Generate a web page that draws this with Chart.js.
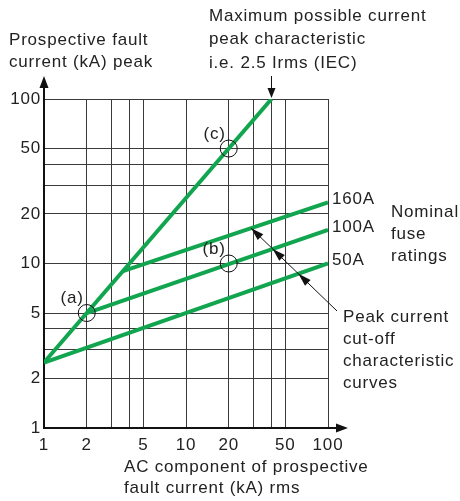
<!DOCTYPE html>
<html>
<head>
<meta charset="utf-8">
<script src="https://cdn.jsdelivr.net/npm/chart.js@4.4.1/dist/chart.umd.min.js"></script>
<style>
  html, body { margin: 0; padding: 0; background: #fff; }
</style>
</head>
<body>
<canvas id="fuse-chart" width="460" height="501"></canvas>
<script>
// Grid lines (log-log) and the values that get a label
const gridValues = [1, 2, 3, 4, 5, 10, 20, 30, 40, 50, 100];
const labelledValues = [1, 2, 5, 10, 20, 50, 100];

// Maximum possible current peak, i.e. 2.5 x Irms
const maxPeakX = [1, 40];
const maxPeakY = [2.5, 100];

// Cut-off curves for each nominal fuse rating
const fuseNames = ['50A', '100A', '160A'];
const fuse50X = [1, 100];
const fuse50Y = [2.5, 10];
const fuse100X = [2, 100];
const fuse100Y = [5, 16];
const fuse160X = [3.6, 100];
const fuse160Y = [9, 23.5];

// Marked points (a), (b), (c)
const markerNames = ['(a)', '(b)', '(c)'];
const markerX = [2, 20, 20];
const markerY = [5, 10, 50];

const GREEN = '#12a550';
const INK = '#222';
const FAMILY = '"Liberation Sans", Arial, sans-serif';
const FONT = '17px ' + FAMILY;
const SPACING = '0.8px';

const toPoints = (xs, ys) => xs.map((v, i) => ({ x: v, y: ys[i] }));

const greenLine = (label, xs, ys) => ({
    label,
    data: toPoints(xs, ys),
    showLine: true,
    borderColor: GREEN,
    backgroundColor: GREEN,
    borderWidth: 4,
    borderCapStyle: 'butt',
    pointRadius: 0,
    order: 1
});

function arrowHead(ctx, tx, ty, fx, fy, len, half) {
    const ang = Math.atan2(ty - fy, tx - fx);
    ctx.beginPath();
    ctx.moveTo(tx, ty);
    ctx.lineTo(tx - len * Math.cos(ang) + half * Math.sin(ang), ty - len * Math.sin(ang) - half * Math.cos(ang));
    ctx.lineTo(tx - len * Math.cos(ang) - half * Math.sin(ang), ty - len * Math.sin(ang) + half * Math.cos(ang));
    ctx.closePath();
    ctx.fill();
}

// intersection of line p1-p2 with line p3-p4 (pixel space)
function intersect(p1, p2, p3, p4) {
    const d = (p1.x - p2.x) * (p3.y - p4.y) - (p1.y - p2.y) * (p3.x - p4.x);
    const a = p1.x * p2.y - p1.y * p2.x;
    const b = p3.x * p4.y - p3.y * p4.x;
    return {
        x: (a * (p3.x - p4.x) - (p1.x - p2.x) * b) / d,
        y: (a * (p3.y - p4.y) - (p1.y - p2.y) * b) / d
    };
}

const annotations = {
    id: 'annotations',
    beforeDraw(chart) {
        // the original lettering is a bit wider than Arial
        chart.ctx.letterSpacing = SPACING;
    },
    afterDraw(chart) {
        const { ctx, chartArea: a, scales: { x, y } } = chart;
        const px = (vx, vy) => ({ x: x.getPixelForValue(vx), y: y.getPixelForValue(vy) });
        ctx.save();
        ctx.fillStyle = '#111';
        ctx.strokeStyle = '#111';

        // axis arrows
        ctx.lineWidth = 2;
        ctx.beginPath();
        ctx.moveTo(a.left, a.top);
        ctx.lineTo(a.left, a.top - 14);
        ctx.moveTo(a.right, a.bottom);
        ctx.lineTo(a.right + 10, a.bottom);
        ctx.stroke();
        arrowHead(ctx, a.left, a.top - 23, a.left, a.top, 12, 4.5);
        arrowHead(ctx, a.right + 20, a.bottom, a.right, a.bottom, 12, 4.5);

        // arrow to the top of the max peak line
        const top = px(maxPeakX[1], maxPeakY[1]);
        ctx.lineWidth = 1;
        ctx.beginPath();
        ctx.moveTo(top.x, top.y - 23);
        ctx.lineTo(top.x, top.y - 8);
        ctx.stroke();
        arrowHead(ctx, top.x, top.y - 1, top.x, top.y - 23, 10, 4);

        // pointer from "Peak current..." to the three fuse curves
        const f160a = px(fuse160X[0], fuse160Y[0]), f160b = px(fuse160X[1], fuse160Y[1]);
        const tail = { x: a.right + 9, y: a.top + 212 };
        const tip160 = intersect(tail, { x: tail.x - 85, y: tail.y - 82 }, f160a, f160b);
        const tip100 = intersect(tail, tip160, px(fuse100X[0], fuse100Y[0]), px(fuse100X[1], fuse100Y[1]));
        const tip50 = intersect(tail, tip160, px(fuse50X[0], fuse50Y[0]), px(fuse50X[1], fuse50Y[1]));
        ctx.beginPath();
        ctx.moveTo(tail.x, tail.y);
        ctx.lineTo(tip160.x, tip160.y);
        ctx.stroke();
        [tip160, tip100, tip50].forEach(t => arrowHead(ctx, t.x, t.y, tail.x, tail.y, 13, 4));

        // text
        ctx.fillStyle = INK;
        ctx.font = FONT;
        ctx.letterSpacing = SPACING;
        ctx.textAlign = 'left';
        ctx.textBaseline = 'alphabetic';
        ctx.fillText('Prospective fault', 9, 45);
        ctx.fillText('current (kA) peak', 9, 67);
        ctx.fillText('Maximum possible current', 209, 21);
        ctx.fillText('peak characteristic', 209, 44);
        ctx.fillText('i.e. 2.5 Irms (IEC)', 209, 68);
        ctx.fillText('AC component of prospective', 124, 472);
        ctx.fillText('fault current (kA) rms', 124, 493);
        ctx.fillText('Nominal', 391, 217);
        ctx.fillText('fuse', 391, 239);
        ctx.fillText('ratings', 391, 261);
        ctx.fillText('Peak current', 343, 322);
        ctx.fillText('cut-off', 343, 344);
        ctx.fillText('characteristic', 343, 366);
        ctx.fillText('curves', 343, 388);

        // fuse rating labels at the line ends
        const ends = [px(fuse50X[1], fuse50Y[1]), px(fuse100X[1], fuse100Y[1]), px(fuse160X[1], fuse160Y[1])];
        ctx.textBaseline = 'middle';
        fuseNames.forEach((n, i) => ctx.fillText(n, ends[i].x + 4, ends[i].y - 3));

        // marker labels
        ctx.textAlign = 'right';
        ctx.textBaseline = 'alphabetic';
        markerNames.forEach((n, i) => {
            const p = px(markerX[i], markerY[i]);
            ctx.fillText(n, p.x - 3, p.y - 10);
        });
        ctx.restore();
    }
};

const setTicks = (scale) => {
    scale.ticks = gridValues.map(v => ({ value: v }));
};
const tickLabel = (v) => labelledValues.includes(v) ? String(v) : '';

new Chart(document.getElementById('fuse-chart'), {
    type: 'scatter',
    data: {
        datasets: [
            {
                label: 'markers',
                data: toPoints(markerX, markerY),
                pointStyle: 'circle',
                pointRadius: 8.5,
                borderColor: '#111',
                borderWidth: 1,
                backgroundColor: 'rgba(0,0,0,0)',
                order: 0
            },
            greenLine('max peak', maxPeakX, maxPeakY),
            greenLine('50A', fuse50X, fuse50Y),
            greenLine('100A', fuse100X, fuse100Y),
            greenLine('160A', fuse160X, fuse160Y)
        ]
    },
    options: {
        responsive: false,
        animation: false,
        layout: { padding: { top: 99, right: 132, bottom: 0, left: 0 } },
        plugins: {
            legend: { display: false },
            tooltip: { enabled: false }
        },
        scales: {
            x: {
                type: 'logarithmic',
                min: 1,
                max: 100,
                afterBuildTicks: setTicks,
                afterFit: (s) => { s.height = 73; },
                border: { display: true, color: '#111', width: 2 },
                grid: { color: '#3a3a3a', lineWidth: 1, drawTicks: false },
                ticks: {
                    callback: tickLabel,
                    autoSkip: false,
                    maxRotation: 0,
                    padding: 7,
                    color: INK,
                    font: { family: FAMILY, size: 17 }
                }
            },
            y: {
                type: 'logarithmic',
                min: 1,
                max: 100,
                afterBuildTicks: setTicks,
                afterFit: (s) => { s.width = 44; },
                border: { display: true, color: '#111', width: 2 },
                grid: { color: '#3a3a3a', lineWidth: 1, drawTicks: false },
                ticks: {
                    callback: tickLabel,
                    autoSkip: false,
                    padding: 3,
                    color: INK,
                    font: { family: FAMILY, size: 17 }
                }
            }
        }
    },
    plugins: [annotations]
});
</script>
</body>
</html>
